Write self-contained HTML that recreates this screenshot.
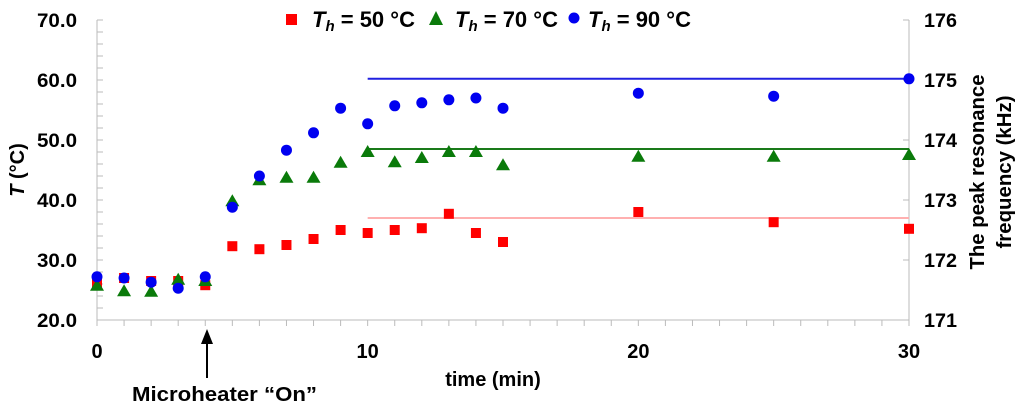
<!DOCTYPE html>
<html><head><meta charset="utf-8"><style>
body{margin:0;background:#fff;}
svg{display:block;font-family:"Liberation Sans",Arial,sans-serif;font-weight:bold;}
</style></head><body>
<svg id="c" width="1024" height="411" viewBox="0 0 1024 411"></svg>
<script>
const xs=[0,1,2,3,4,5,6,7,8,9,10,11,12,13,14,15,20,25,30];
const red=[26.2,27.0,26.5,26.5,25.8,32.3,31.8,32.5,33.5,35,34.5,35,35.3,37.7,34.5,33,38,36.3,35.2];
const green=[25.7,24.8,24.7,26.7,26.5,39.8,43.3,43.7,43.7,46.2,48,46.3,47,48,48,45.8,47.2,47.2,47.5];
const blue=[27.2,27,26.3,25.3,27.2,38.8,44,48.3,51.2,55.3,52.7,55.7,56.2,56.7,57,55.3,57.8,57.3,60.2];
const refs=[{v:37,c:"#ffb0b0",n:"red-reference-line"},{v:48.5,c:"#1a7a1a",n:"green-reference-line"},{v:60.2,c:"#2020e0",n:"blue-reference-line"}];
const xTicks=[0,10,20,30];
const yTicks=[20,30,40,50,60,70];
const y2Ticks=[171,172,173,174,175,176];
const X=v=>97+v*(909-97)/30;
const Y=v=>320-(v-20)*6;
const Y2=v=>320-(v-171)*60;
const s=document.getElementById('c');
function mk(t,a,txt){const e=document.createElementNS('http://www.w3.org/2000/svg',t);for(const k in a)e.setAttribute(k,a[k]);if(txt!==undefined)e.textContent=txt;s.appendChild(e);return e;}
let e;
e=mk('line',{x1:X(0),y1:20,x2:X(0),y2:320,stroke:'#bbb'});


e=mk('line',{x1:X(30),y1:20,x2:X(30),y2:320,stroke:'#bbb'});


e=mk('line',{x1:X(0),y1:320,x2:X(30),y2:320,stroke:'#bbb'});


for(let v=20;v<=70;v+=2){mk('line',{x1:X(0),y1:Y(v),x2:X(0)+6,y2:Y(v),stroke:'#bbb'});}
for(let v=0;v<=30;v++){mk('line',{x1:X(v),y1:320,x2:X(v),y2:326,stroke:'#bbb'});}
for(const v of y2Ticks){mk('line',{x1:X(30)-6,y1:Y2(v),x2:X(30),y2:Y2(v),stroke:'#bbb'});}
yTicks.forEach(v=>{e=mk('text',{x:77,y:Y(v)+7,'text-anchor':'end','font-size':19,textLength:40,lengthAdjust:'spacingAndGlyphs'},v.toFixed(1));

});
y2Ticks.forEach(v=>{e=mk('text',{x:924,y:Y2(v)+7,'font-size':19,textLength:33,lengthAdjust:'spacingAndGlyphs'},v);

});
xTicks.forEach(v=>{e=mk('text',{x:X(v),y:358,'text-anchor':'middle','font-size':20},v);

});
refs.forEach(r=>{e=mk('line',{x1:X(10),y1:Y(r.v),x2:X(30),y2:Y(r.v),stroke:r.c,'stroke-width':2});

});
xs.forEach((x,i)=>{e=mk('rect',{x:X(x)-5,y:Y(red[i])-5,width:10,height:10,fill:'#f00'});

});
xs.forEach((x,i)=>{const cx=X(x),cy=Y(green[i]);e=mk('polygon',{points:`${cx},${cy-7} ${cx+7},${cy+5} ${cx-7},${cy+5}`,fill:'#0a7a0a'});

});
xs.forEach((x,i)=>{e=mk('circle',{cx:X(x),cy:Y(blue[i]),r:5.5,fill:'#0000f0'});

});
// legend
e=mk('rect',{x:286,y:14,width:11,height:11,fill:'#f00'});


e=mk('text',{x:312,y:27,'font-size':22},'');
e.innerHTML='<tspan font-style="italic">T</tspan><tspan font-style="italic" font-size="15" dy="4">h</tspan><tspan dy="-4"> = 50 °C</tspan>';


e=mk('polygon',{points:'436,11 443,25 429,25',fill:'#0a7a0a'});


e=mk('text',{x:455,y:27,'font-size':22},'');
e.innerHTML='<tspan font-style="italic">T</tspan><tspan font-style="italic" font-size="15" dy="4">h</tspan><tspan dy="-4"> = 70 °C</tspan>';


e=mk('circle',{cx:574,cy:18,r:5.5,fill:'#0000f0'});


e=mk('text',{x:588,y:27,'font-size':22},'');
e.innerHTML='<tspan font-style="italic">T</tspan><tspan font-style="italic" font-size="15" dy="4">h</tspan><tspan dy="-4"> = 90 °C</tspan>';


// titles
e=mk('text',{x:493,y:386,'text-anchor':'middle','font-size':20},'time (min)');


e=mk('text',{x:0,y:0,'text-anchor':'middle','font-size':20,transform:'translate(24,170) rotate(-90)'},'');
e.innerHTML='<tspan font-style="italic">T</tspan> (°C)';


e=mk('text',{x:0,y:0,'text-anchor':'middle','font-size':20,textLength:195,lengthAdjust:'spacingAndGlyphs',transform:'translate(984,172) rotate(-90)'},'The peak resonance');


e=mk('text',{x:0,y:0,'text-anchor':'middle','font-size':20,textLength:153,lengthAdjust:'spacingAndGlyphs',transform:'translate(1011,172) rotate(-90)'},'frequency (kHz)');


// arrow
e=mk('line',{x1:207,y1:340,x2:207,y2:378,stroke:'#000','stroke-width':2});


mk('polygon',{points:'207,329 201,344 213,344',fill:'#000'});
e=mk('text',{x:132,y:401,'font-size':20,textLength:185,lengthAdjust:'spacingAndGlyphs'},'Microheater “On”');


</script>
</body></html>
